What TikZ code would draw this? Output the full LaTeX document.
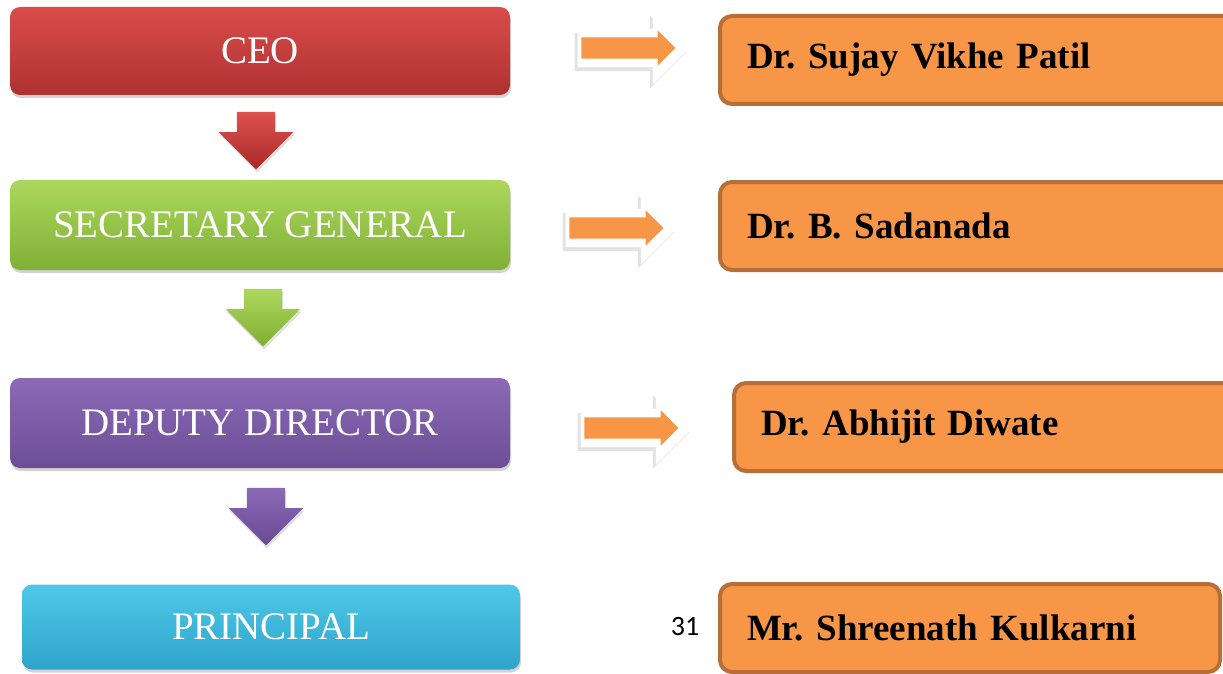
\documentclass[tikz,border=0pt]{standalone}
\usepackage{fontspec}
\setmainfont{Liberation Serif}
\newfontfamily\pagefont{Carlito}
\usepackage{tikz}
\usetikzlibrary{shapes.arrows}
\usetikzlibrary{shadows}
\usetikzlibrary{calc,positioning}
\definecolor{orangefill}{HTML}{F79646}
\definecolor{orangeline}{HTML}{B76E38}
\frenchspacing
\tikzset{
  rolebox/.style={rounded corners=10pt, minimum width=500pt, minimum height=88pt,
    text=white, font=\fontsize{39}{42}\selectfont,
    drop shadow={opacity=.35, shadow xshift=1pt, shadow yshift=-3pt}},
  downarrow/.style={single arrow, shape border rotate=270, inner sep=19pt,
    minimum height=54pt, single arrow head extend=18pt,
    drop shadow={opacity=.25, shadow xshift=1pt, shadow yshift=-3pt}},
  sidearrow/.style={single arrow, inner sep=19pt, fill=white,
    minimum height=112pt, single arrow head extend=17.5pt,
    drop shadow={opacity=.22, shadow xshift=-3pt, shadow yshift=-4pt}},
  sidefill/.style={single arrow, inner sep=10.5pt, fill=orangefill,
    minimum height=94pt, single arrow head extend=7pt},
  namebox/.style={rounded corners=12pt, draw=orangeline, line width=4pt, fill=orangefill,
    anchor=west, minimum height=88pt, inner xsep=27pt, align=left, text width=#1,
    font=\bfseries\fontsize{37}{40}\selectfont},
  namebox/.default=506pt
}
\begin{document}
\begin{tikzpicture}[x=1pt, y=-1pt]
\clip (0,0) rectangle (1223,674);
% left column
\node[rolebox, top color={rgb,255:red,218;green,76;blue,74}, bottom color={rgb,255:red,174;green,50;blue,48}] (ceo) at (260,51) {CEO};
\node[rolebox, minimum height=90pt, top color={rgb,255:red,170;green,215;blue,92}, bottom color={rgb,255:red,130;green,176;blue,54}] (sg) at (260,225) {SECRETARY GENERAL};
\node[rolebox, minimum height=90pt, top color={rgb,255:red,140;green,106;blue,182}, bottom color={rgb,255:red,108;green,78;blue,150}] (dd) at (260,423) {DEPUTY DIRECTOR};
\node[rolebox, minimum width=498pt, minimum height=85pt, top color={rgb,255:red,78;green,200;blue,232}, bottom color={rgb,255:red,46;green,164;blue,202}] (pr) at (271,627) {PRINCIPAL};
\node[downarrow, top color={rgb,255:red,222;green,82;blue,80}, bottom color={rgb,255:red,168;green,40;blue,38}] (d1) at (256,131) {};
\node[downarrow, top color={rgb,255:red,172;green,216;blue,94}, bottom color={rgb,255:red,128;green,174;blue,50}] (d2) at (263,308) {};
\node[downarrow, top color={rgb,255:red,140;green,106;blue,182}, bottom color={rgb,255:red,104;green,74;blue,146}] (d3) at (266,507) {};
% right column
\node[sidearrow] (s1) at (624,48) {};
\node[sidearrow] (s2) at (612,228) {};
\node[sidearrow] (s3) at (627,428) {};
\foreach \s in {s1,s2,s3}
  \node[sidefill] (\s f) at ([xshift=-1pt]\s) {};
\node[namebox] (n1) at (718,60) {Dr. Sujay Vikhe Patil};
\node[namebox] (n2) at (718,226) {Dr. B. Sadanada};
\node[namebox] (n3) at (732,427) {Dr. Abhijit Diwate};
\node[namebox=446pt] (n4) at (718,628) {Mr. Shreenath Kulkarni};
\node[font=\pagefont\fontsize{28}{30}\selectfont] (pg) at (685,627) {31};
\end{tikzpicture}
\end{document}
